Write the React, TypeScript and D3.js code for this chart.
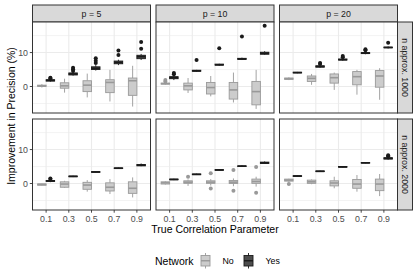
import * as React from 'react';
import * as d3 from 'd3';

const corrLabels = ['0.1', '0.3', '0.5', '0.7', '0.9'];
const pLabels = ['p = 5', 'p = 10', 'p = 20'];
const nLabels = ['n approx. 1000', 'n approx. 2000'];
const networks = ['No', 'Yes'];
const yMajor = [0, 10];
const yMinor = [-5, 5, 15];

// box stats per correlation: [lower whisker, q1, median, q3, upper whisker]
const no_p5_n1000 = [[-0.3, 0.0, 0.2, 0.4, 0.7], [-1.8, -0.5, 0.2, 1.1, 2.3], [-3.2, -1.5, 0.4, 1.7, 3.8], [-4.4, -1.8, 1.2, 2.0, 4.9], [-5.9, -2.6, 1.7, 2.5, 6.1]];
const yes_p5_n1000 = [[1.4, 1.6, 1.8, 2.0, 2.2], [3.2, 3.4, 3.7, 4.0, 4.3], [4.7, 5.0, 5.4, 5.8, 6.3], [6.3, 6.7, 7.1, 7.5, 7.9], [7.8, 8.2, 8.8, 9.2, 9.6]];
const no_p10_n1000 = [[0.5, 0.7, 0.85, 1.0, 1.2], [-1.9, -1.0, 0.2, 1.0, 2.5], [-2.9, -2.2, -0.3, 1.2, 3.1], [-4.7, -3.7, -1.0, 1.2, 4.1], [-6.6, -5.4, -1.5, 1.5, 4.9]];
const yes_p10_n1000 = [[1.9, 2.3, 2.6, 2.9, 3.1], [4.3, 4.5, 4.6, 4.8, 4.9], [6.1, 6.3, 6.4, 6.6, 6.7], [7.8, 8.0, 8.1, 8.3, 8.5], [9.3, 9.5, 9.8, 10.1, 10.4]];
const no_p20_n1000 = [[1.9, 2.1, 2.3, 2.5, 2.7], [0.5, 1.5, 2.4, 3.1, 3.7], [-1.0, 1.0, 2.6, 3.7, 4.1], [-2.4, 0.5, 2.9, 4.4, 4.9], [-3.9, -0.2, 3.1, 4.7, 5.4]];
const yes_p20_n1000 = [[3.9, 4.0, 4.1, 4.2, 4.3], [5.5, 5.7, 5.9, 6.1, 6.3], [7.6, 7.8, 7.9, 8.1, 8.3], [9.5, 9.7, 9.8, 10.0, 10.2], [11.2, 11.4, 11.5, 11.6, 11.8]];
const no_p5_n2000 = [[-0.6, -0.5, -0.3, -0.1, 0.0], [-1.3, -1.1, -0.15, 0.5, 0.8], [-2.4, -1.7, -0.45, 0.35, 1.0], [-3.1, -2.2, -1.1, 0.2, 1.3], [-4.1, -2.9, -1.4, 0.5, 1.8]];
const yes_p5_n2000 = [[0.4, 0.6, 0.8, 0.9, 1.1], [1.9, 2.0, 2.1, 2.2, 2.3], [3.2, 3.3, 3.4, 3.5, 3.6], [4.3, 4.4, 4.5, 4.6, 4.7], [5.1, 5.2, 5.4, 5.6, 5.9]];
const no_p10_n2000 = [[-0.3, -0.15, 0.2, 0.5, 0.7], [-0.7, 0.05, 0.4, 0.8, 1.2], [-0.6, 0.05, 0.4, 0.8, 1.3], [-0.8, 0.0, 0.4, 0.9, 1.5], [-0.9, 0.05, 0.6, 1.3, 2.0]];
const yes_p10_n2000 = [[1.0, 1.1, 1.2, 1.3, 1.4], [2.5, 2.6, 2.7, 2.8, 2.9], [3.8, 3.9, 4.0, 4.1, 4.2], [4.9, 5.0, 5.1, 5.2, 5.4], [5.8, 5.9, 6.1, 6.3, 6.5]];
const no_p20_n2000 = [[0.5, 0.7, 1.0, 1.3, 1.4], [-0.2, 0.05, 0.5, 1.0, 1.2], [-1.4, -0.7, 0.15, 0.8, 2.0], [-2.4, -1.4, -0.15, 1.2, 2.5], [-3.7, -2.1, -0.15, 1.3, 2.8]];
const yes_p20_n2000 = [[2.0, 2.1, 2.2, 2.3, 2.4], [3.4, 3.5, 3.6, 3.7, 3.8], [4.7, 4.8, 4.9, 5.0, 5.1], [5.9, 6.0, 6.1, 6.2, 6.3], [7.0, 7.2, 7.4, 7.6, 7.8]];

// outliers per correlation
const out_no_p5_n1000 = [[], [], [], [], []];
const out_yes_p5_n1000 = [[2.4, 2.6], [4.6, 5.1, 5.5], [6.9, 7.6, 8.3], [9.3, 10.6], [11.1, 13.1]];
const out_no_p10_n1000 = [[1.5, 1.9], [], [], [], []];
const out_yes_p10_n1000 = [[3.6, 4.0], [7.8], [11.3], [14.7], [17.9]];
const out_no_p20_n1000 = [[], [], [], [], []];
const out_yes_p20_n1000 = [[], [6.6, 6.9], [8.6, 9.0], [10.7, 11.0], [12.9]];
const out_no_p5_n2000 = [[], [], [], [], []];
const out_yes_p5_n2000 = [[1.3, 1.5], [], [], [], []];
const out_no_p10_n2000 = [[], [2.0], [-1.5, 3.0], [-2.1, 4.0], [-2.7, 4.9]];
const out_yes_p10_n2000 = [[], [], [], [], []];
const out_no_p20_n2000 = [[-0.15], [], [], [], []];
const out_yes_p20_n2000 = [[], [], [], [], [8.0, 8.3]];

const panels = [
  { row: 0, col: 0, no: no_p5_n1000, yes: yes_p5_n1000, noOut: out_no_p5_n1000, yesOut: out_yes_p5_n1000 },
  { row: 0, col: 1, no: no_p10_n1000, yes: yes_p10_n1000, noOut: out_no_p10_n1000, yesOut: out_yes_p10_n1000 },
  { row: 0, col: 2, no: no_p20_n1000, yes: yes_p20_n1000, noOut: out_no_p20_n1000, yesOut: out_yes_p20_n1000 },
  { row: 1, col: 0, no: no_p5_n2000, yes: yes_p5_n2000, noOut: out_no_p5_n2000, yesOut: out_yes_p5_n2000 },
  { row: 1, col: 1, no: no_p10_n2000, yes: yes_p10_n2000, noOut: out_no_p10_n2000, yesOut: out_yes_p10_n2000 },
  { row: 1, col: 2, no: no_p20_n2000, yes: yes_p20_n2000, noOut: out_no_p20_n2000, yesOut: out_yes_p20_n2000 },
];

const font = 'Liberation Sans, Arial, Helvetica, sans-serif';
const styles = {
  No: { fill: '#cccccc', stroke: '#999999' },
  Yes: { fill: '#4d4d4d', stroke: '#1a1a1a' },
};

const left = 32.5;
const top = 22;
const panelW = 118;
const panelH = 91;
const gapX = 5.5;
const gapY = 6;
const stripH = 17;
const stripW = 15;

const App: React.FC = () => {
  const x = d3.scalePoint<string>().domain(corrLabels).range([0, panelW]).padding(0.6);
  const y = d3.scaleLinear().domain([-7.8, 19]).range([panelH, 0]);
  const step = x.step();
  const boxW = step * 0.375;
  const dodge = d3.scalePoint<string>().domain(networks).range([-step * 0.1875, step * 0.1875]);

  const drawBox = (s: number[], outs: number[], cx: number, net: string, key: string) => {
    const st = styles[net];
    return (
      <g key={key}>
        <line x1={cx} x2={cx} y1={y(s[0])} y2={y(s[1])} stroke={st.stroke} strokeWidth={0.9} />
        <line x1={cx} x2={cx} y1={y(s[3])} y2={y(s[4])} stroke={st.stroke} strokeWidth={0.9} />
        <rect x={cx - boxW / 2} width={boxW} y={y(s[3])} height={Math.max(0.1, y(s[1]) - y(s[3]))}
          fill={st.fill} stroke={st.stroke} strokeWidth={0.9} />
        <line x1={cx - boxW / 2} x2={cx + boxW / 2} y1={y(s[2])} y2={y(s[2])} stroke={st.stroke} strokeWidth={1.6} />
        {outs.map((o, i) => (
          <circle key={i} cx={cx} cy={y(o)} r={2} fill={st.stroke} />
        ))}
      </g>
    );
  };

  const panelsRight = left + 3 * panelW + 2 * gapX;
  const panelsBottom = top + 2 * panelH + gapY;

  return (
    <svg width={420} height={280} style={{ position: 'absolute', left: 0, top: 0, background: '#fff' }} fontFamily={font}>
      {/* column strips */}
      {pLabels.map((p, c) => {
        const px = left + c * (panelW + gapX);
        return (
          <g key={p}>
            <rect x={px} y={top - stripH} width={panelW} height={stripH} fill="#d9d9d9" stroke="#333333" strokeWidth={1} />
            <text x={px + panelW / 2} y={top - stripH / 2 + 3} textAnchor="middle" fontSize={8.8} fill="#1a1a1a">{p}</text>
          </g>
        );
      })}
      {/* row strips */}
      {nLabels.map((n, r) => {
        const py = top + r * (panelH + gapY);
        const sx = left + 3 * panelW + 2 * gapX;
        return (
          <g key={n}>
            <rect x={sx} y={py} width={stripW} height={panelH} fill="#d9d9d9" stroke="#333333" strokeWidth={1} />
            <text transform={`translate(${sx + stripW / 2 - 3},${py + panelH / 2}) rotate(90)`} textAnchor="middle" fontSize={8.8} fill="#1a1a1a">{n}</text>
          </g>
        );
      })}
      {panels.map((pn, i) => {
        const px = left + pn.col * (panelW + gapX);
        const py = top + pn.row * (panelH + gapY);
        return (
          <g key={i} transform={`translate(${px},${py})`}>
            <rect x={0} y={0} width={panelW} height={panelH} fill="#ffffff" />
            {yMinor.map(v => (
              <line key={'mn' + v} x1={0} x2={panelW} y1={y(v)} y2={y(v)} stroke="#ebebeb" strokeWidth={0.6} />
            ))}
            {yMajor.map(v => (
              <line key={'mj' + v} x1={0} x2={panelW} y1={y(v)} y2={y(v)} stroke="#ebebeb" strokeWidth={1.1} />
            ))}
            {corrLabels.map(c => (
              <line key={'v' + c} x1={x(c)} x2={x(c)} y1={0} y2={panelH} stroke="#ebebeb" strokeWidth={1.1} />
            ))}
            {corrLabels.map((c, j) => drawBox(pn.no[j], pn.noOut[j], x(c)! + dodge('No')!, 'No', 'n' + j))}
            {corrLabels.map((c, j) => drawBox(pn.yes[j], pn.yesOut[j], x(c)! + dodge('Yes')!, 'Yes', 'y' + j))}
            <rect x={0} y={0} width={panelW} height={panelH} fill="none" stroke="#333333" strokeWidth={1} />
            {pn.col === 0 && yMajor.map(v => (
              <g key={'yt' + v}>
                <line x1={-2.7} x2={0} y1={y(v)} y2={y(v)} stroke="#333333" strokeWidth={0.9} />
                <text x={-4.5} y={y(v) + 3} textAnchor="end" fontSize={8.8} fill="#4d4d4d">{v}</text>
              </g>
            ))}
            {pn.row === 1 && corrLabels.map(c => (
              <g key={'xt' + c}>
                <line x1={x(c)} x2={x(c)} y1={panelH} y2={panelH + 2.7} stroke="#333333" strokeWidth={0.9} />
                <text x={x(c)} y={panelH + 12} textAnchor="middle" fontSize={8.8} fill="#4d4d4d">{c}</text>
              </g>
            ))}
          </g>
        );
      })}
      {/* axis titles */}
      <text x={(left + panelsRight) / 2} y={panelsBottom + 23} textAnchor="middle" fontSize={10.5} fill="#000">True Correlation Parameter</text>
      <text transform={`translate(15,${(top + panelsBottom) / 2}) rotate(-90)`} textAnchor="middle" fontSize={10.5} fill="#000">Improvement in Precision (%)</text>
      {/* legend */}
      <text x={155} y={265} fontSize={10.5} fill="#000">Network</text>
      {networks.map((net, i) => {
        const kx = 205.5 + i * 43;
        const st = styles[net];
        return (
          <g key={net}>
            <line x1={kx} x2={kx} y1={253} y2={268.5} stroke={st.stroke} strokeWidth={0.9} />
            <rect x={kx - 4.5} y={255.5} width={9} height={10.5} fill={st.fill} stroke={st.stroke} strokeWidth={0.9} />
            <line x1={kx - 4.5} x2={kx + 4.5} y1={260.75} y2={260.75} stroke={st.stroke} strokeWidth={1.4} />
            <text x={kx + 17} y={264} fontSize={8.8} fill="#000">{net}</text>
          </g>
        );
      })}
    </svg>
  );
};

export default App;
